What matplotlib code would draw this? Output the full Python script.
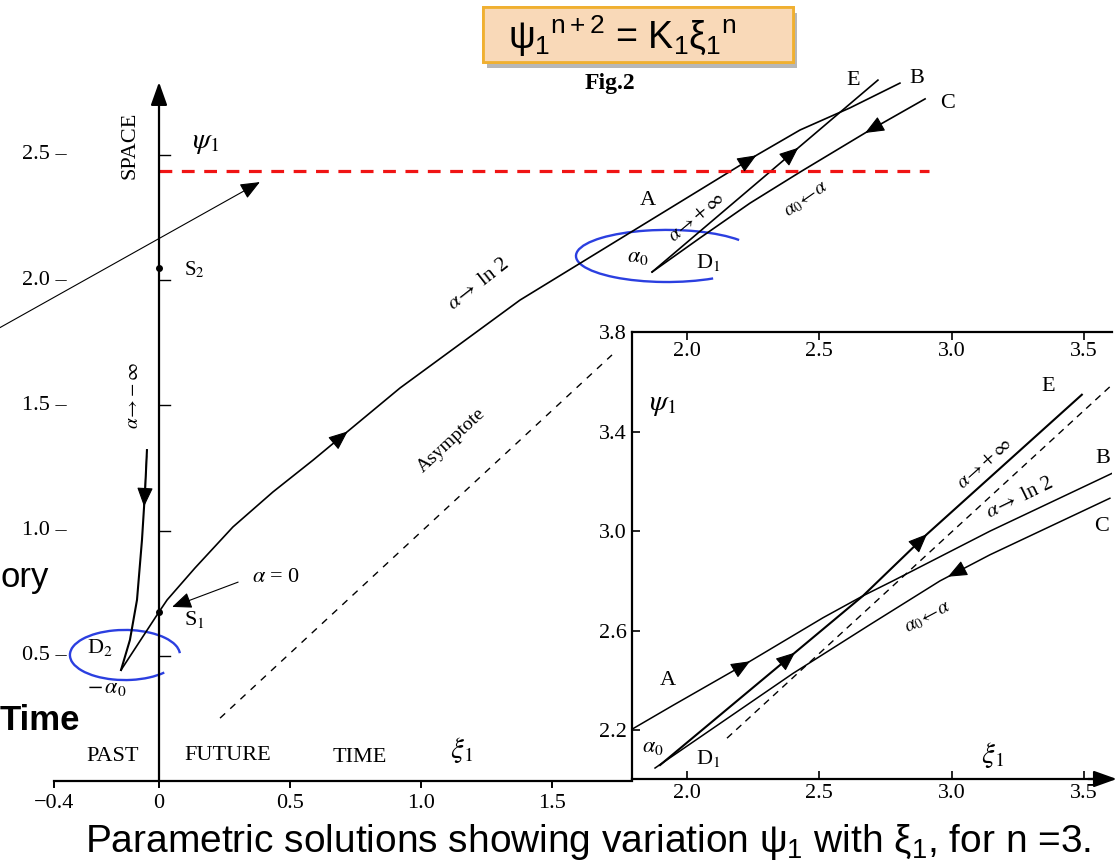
import numpy as np
import matplotlib.pyplot as plt
import matplotlib.patheffects as pe
from matplotlib.patches import Arc, Rectangle

plt.rcParams['font.family'] = ['Liberation Serif', 'DejaVu Serif']
plt.rcParams['mathtext.fontset'] = 'custom'
plt.rcParams['mathtext.rm'] = 'Liberation Sans'
plt.rcParams['mathtext.it'] = 'Liberation Sans'
plt.rcParams['mathtext.bf'] = 'Liberation Sans:bold'

# main panel, curves (xi_1, psi_1)
a_x = [-0.145, 0.0, 0.031, 0.137, 0.282, 0.435, 0.588, 0.920, 1.378, 2.282, 2.447, 2.637, 2.828]
a_y = [0.443, 0.675, 0.723, 0.850, 1.014, 1.154, 1.281, 1.569, 1.920, 2.499, 2.599, 2.687, 2.786]
neg_x = [-0.145, -0.111, -0.084, -0.065, -0.053, -0.046]
neg_y = [0.443, 0.563, 0.723, 0.962, 1.162, 1.321]
e_x = [1.882, 2.744]
e_y = [2.032, 2.798]
c_x = [1.882, 2.065, 2.256, 2.447, 2.695, 2.924]
c_y = [2.032, 2.168, 2.307, 2.431, 2.587, 2.723]
asym_x = [0.233, 1.729]
asym_y = [0.251, 1.701]
red_level = 2.435
red_x = [0.0, 2.94]
ptr_x = [-0.607, 0.385]
ptr_y = [1.81, 2.391]
s_points_y = [0.675, 2.048]

main_xticks = [-0.4, 0.0, 0.5, 1.0, 1.5]
main_xlabels = ['\u22120.4', '0', '0.5', '1.0', '1.5']
main_yticks = [0.5, 1.0, 1.5, 2.0, 2.5]

# inset (enlarged region)
ia_x = [1.792, 1.947, 2.230, 2.514, 2.665, 2.778, 3.145, 3.606]
ia_y = [2.204, 2.300, 2.472, 2.652, 2.740, 2.800, 3.000, 3.232]
ie_x = [1.898, 2.408, 2.665, 2.907, 3.492]
ie_y = [2.060, 2.512, 2.740, 2.988, 3.548]
ic_x = [1.879, 2.400, 2.691, 2.956, 3.145, 3.598]
ic_y = [2.048, 2.428, 2.624, 2.800, 2.905, 3.132]
iasym_x = [2.151, 3.598]
iasym_y = [2.168, 3.580]
inset_xticks = [2.0, 2.5, 3.0, 3.5]
inset_yticks = [2.2, 2.6, 3.0, 3.4, 3.8]

BLUE = '#2b3fe0'


def head(ax, xs, ys, x0, back=False, ms=20):
    # filled arrow head sitting on a curve at x0
    y0 = np.interp(x0, xs, ys)
    tx = x0 + 0.01 if back else x0 - 0.01
    ty = np.interp(tx, xs, ys)
    ax.annotate('', xy=(x0, y0), xytext=(tx, ty),
                arrowprops=dict(arrowstyle='-|>,head_length=0.6,head_width=0.25',
                                fc='k', ec='k', lw=0.8, shrinkA=0, shrinkB=0,
                                mutation_scale=ms))


fig = plt.figure(figsize=(11.17, 8.66), dpi=100)
ax = fig.add_axes([0, 0, 1, 1])
ax.set_xlim(-0.6069, 3.6565)
ax.set_ylim(-0.3393, 3.1178)
ax.axis('off')

# axes of the original figure
ax.plot([-0.4, 1.805], [0, 0], color='k', lw=1.6)
ax.annotate('', xy=(0, 2.79), xytext=(0, 0),
            arrowprops=dict(arrowstyle='-|>,head_length=0.7,head_width=0.25',
                            fc='k', ec='k', lw=1.6, shrinkA=0, shrinkB=0,
                            mutation_scale=20))
for t, lab in zip(main_xticks, main_xlabels):
    ax.plot([t, t], [0, -0.022], color='k', lw=1.4)
    ax.text(t, -0.088, lab, ha='center', va='center', fontsize=16)
for t in main_yticks:
    ax.plot([0, 0.042], [t, t], color='k', lw=1.0)
    ax.text(-0.351, t, '%.1f \u2013' % t, ha='right', va='center', fontsize=16)

# curves
ax.plot(a_x, a_y, color='k', lw=1.2)
ax.plot(neg_x, neg_y, color='k', lw=1.5)
ax.plot(e_x, e_y, color='k', lw=1.2)
ax.plot(c_x, c_y, color='k', lw=1.2)
ax.plot(asym_x, asym_y, color='k', lw=1.0, linestyle=(0, (5, 5)))
ax.plot(red_x, [red_level, red_level], color='#f01414', lw=2.3, linestyle=(0, (4, 3)))
ax.annotate('', xy=(ptr_x[1], ptr_y[1]), xytext=(ptr_x[0], ptr_y[0]),
            arrowprops=dict(arrowstyle='-|>,head_length=0.6,head_width=0.25',
                            fc='k', ec='k', lw=0.8, shrinkA=0, shrinkB=0,
                            mutation_scale=20))
ax.plot([0, 0], s_points_y, 'o', color='k', ms=4)

head(ax, a_x, a_y, 0.72)
head(ax, a_x, a_y, 2.28)
head(ax, neg_x, neg_y, -0.057, back=True)
head(ax, e_x, e_y, 2.44)
head(ax, c_x, c_y, 2.695, back=True)

ax.annotate('', xy=(0.050, 0.695), xytext=(0.302, 0.794),
            arrowprops=dict(arrowstyle='-|>,head_length=0.6,head_width=0.25',
                            fc='k', ec='k', lw=0.8, shrinkA=0, shrinkB=0,
                            mutation_scale=20))

ax.add_patch(Arc((-0.130, 0.503), 0.42, 0.20, theta1=2, theta2=335, color=BLUE, lw=1.7))
ax.add_patch(Arc((1.939, 2.096), 0.695, 0.208, theta1=13, theta2=333, color=BLUE, lw=1.7))

mf = dict(math_fontfamily='stix')
ax.text(-0.111, 2.539, 'SPACE', rotation=90, ha='center', va='center', fontsize=16)
ax.text(0.176, 2.547, r'$\psi_1$', ha='center', va='center', fontsize=21, **mf)
ax.text(0.137, 2.04, r'S$_2$', ha='center', va='center', fontsize=15, **mf)
ax.text(0.137, 0.643, r'S$_1$', ha='center', va='center', fontsize=16, **mf)
ax.text(0.355, 0.814, r'$\alpha$ = 0', ha='left', va='center', fontsize=16, **mf)
ax.text(-0.225, 0.531, r'D$_2$', ha='center', va='center', fontsize=16, **mf)
ax.text(-0.198, 0.371, r'$-\,\alpha_0$', ha='center', va='center', fontsize=16, **mf)
ax.text(-0.099, 1.541, r'$\alpha\!\rightarrow\!-\infty$', rotation=90, ha='center',
        va='center', fontsize=14, **mf)
ax.text(-0.176, 0.096, 'PAST', ha='center', va='center', fontsize=16)
ax.text(0.263, 0.100, 'FUTURE', ha='center', va='center', fontsize=16)
ax.text(0.767, 0.092, 'TIME', ha='center', va='center', fontsize=16)
ax.text(1.156, 0.124, r'$\xi_1$', ha='center', va='center', fontsize=21, **mf)
ax.text(1.866, 2.319, 'A', ha='center', va='center', fontsize=16)
ax.text(2.649, 2.798, 'E', ha='center', va='center', fontsize=16)
ax.text(2.893, 2.806, 'B', ha='center', va='center', fontsize=16)
ax.text(3.008, 2.703, 'C', ha='center', va='center', fontsize=16)
ax.text(1.828, 2.088, r'$\alpha_0$', ha='center', va='center', fontsize=16, **mf)
ax.text(2.095, 2.068, r'D$_1$', ha='center', va='center', fontsize=16, **mf)
ax.text(2.053, 2.251, r'$\alpha\!\rightarrow\!+\infty$', rotation=40, ha='center',
        va='center', fontsize=14, **mf)
ax.text(2.473, 2.319, r'$\alpha_0\!\leftarrow\!\alpha$', rotation=35, ha='center',
        va='center', fontsize=14, **mf)
ax.text(1.218, 1.98, r'$\alpha\!\rightarrow$ ln 2', rotation=38, ha='center',
        va='center', fontsize=15, **mf)
ax.text(1.118, 1.361, 'Asymptote', rotation=43, ha='center', va='center', fontsize=14)
ax.text(1.721, 2.786, 'Fig.2', ha='center', va='center', fontsize=17, weight='bold')

# inset
ins = fig.add_axes([632 / 1117, 87 / 866, 480 / 1117, 447 / 866])
ins.set_xlim(1.792, 3.606)
ins.set_ylim(2.004, 3.80)
ins.set_facecolor('white')
ins.spines['right'].set_visible(False)
for s in ['top', 'left', 'bottom']:
    ins.spines[s].set_linewidth(1.6)
ins.set_xticks(inset_xticks)
ins.set_xticklabels(['%.1f' % t for t in inset_xticks])
ins.set_yticks(inset_yticks)
ins.set_yticklabels(['%.1f' % t for t in inset_yticks])
ins.tick_params(direction='in', length=6, width=1.2, labelsize=16, top=True)
for t in inset_xticks:
    ins.text(t, 3.72, '%.1f' % t, ha='center', va='center', fontsize=16)
ins.annotate('', xy=(1.01, 0), xycoords='axes fraction', xytext=(0.95, 0),
             arrowprops=dict(arrowstyle='-|>,head_length=0.7,head_width=0.25',
                             fc='k', ec='k', lw=1.6, shrinkA=0, shrinkB=0,
                             mutation_scale=20), annotation_clip=False)

ins.plot(ia_x, ia_y, color='k', lw=1.1)
ins.plot(ie_x, ie_y, color='k', lw=1.5)
ins.plot(ic_x, ic_y, color='k', lw=1.1)
ins.plot(iasym_x, iasym_y, color='k', lw=1.0, linestyle=(0, (5, 4)))
head(ins, ia_x, ia_y, 2.238)
head(ins, ie_x, ie_y, 2.408)
head(ins, ie_x, ie_y, 2.907)
head(ins, ic_x, ic_y, 2.986, back=True)

ins.text(1.909, 3.508, r'$\psi_1$', ha='center', va='center', fontsize=21, **mf)
ins.text(3.364, 3.58, 'E', ha='center', va='center', fontsize=16)
ins.text(3.572, 3.292, 'B', ha='center', va='center', fontsize=16)
ins.text(3.568, 3.02, 'C', ha='center', va='center', fontsize=16)
ins.text(1.928, 2.40, 'A', ha='center', va='center', fontsize=16)
ins.text(1.872, 2.132, r'$\alpha_0$', ha='center', va='center', fontsize=16, **mf)
ins.text(2.079, 2.088, r'D$_1$', ha='center', va='center', fontsize=16, **mf)
ins.text(3.156, 2.10, r'$\xi_1$', ha='center', va='center', fontsize=21, **mf)
ins.text(3.126, 3.272, r'$\alpha\!\rightarrow\!+\infty$', rotation=42, ha='center',
         va='center', fontsize=14, **mf)
ins.text(3.258, 3.132, r'$\alpha\!\rightarrow$ ln 2', rotation=26, ha='center',
         va='center', fontsize=15, **mf)
ins.text(2.910, 2.652, r'$\alpha_0\!\leftarrow\!\alpha$', rotation=28, ha='center',
         va='center', fontsize=14, **mf)

# slide annotations
box = Rectangle((483 / 1117, 1 - 62 / 866), 310 / 1117, 55 / 866,
                transform=fig.transFigure, fc='#f9d9b8', ec='#f0b030', lw=2)
box.set_path_effects([pe.withSimplePatchShadow(offset=(3, -4), shadow_rgbFace='#888888',
                                               alpha=0.6), pe.Normal()])
fig.patches.append(box)
fig.text(622 / 1117, 1 - 36 / 866,
         r'$\psi_1{}^{n+2}$ = K$_1\xi_1{}^{n}$',
         ha='center', va='center', fontsize=27, family='Liberation Sans')
fig.text(1 / 1117, 1 - 578 / 866, 'ory', ha='left', va='center', fontsize=25,
         family='Liberation Sans')
fig.text(0, 1 - 720 / 866, 'Time', ha='left', va='center', fontsize=25,
         family='Liberation Sans', weight='bold')
fig.text(588 / 1117, 1 - 842 / 866,
         r'Parametric solutions showing variation $\psi_1$ with $\xi_1$, for n =3.',
         ha='center', va='center', fontsize=28, family='Liberation Sans')

fig.savefig('out.png', dpi=100)
